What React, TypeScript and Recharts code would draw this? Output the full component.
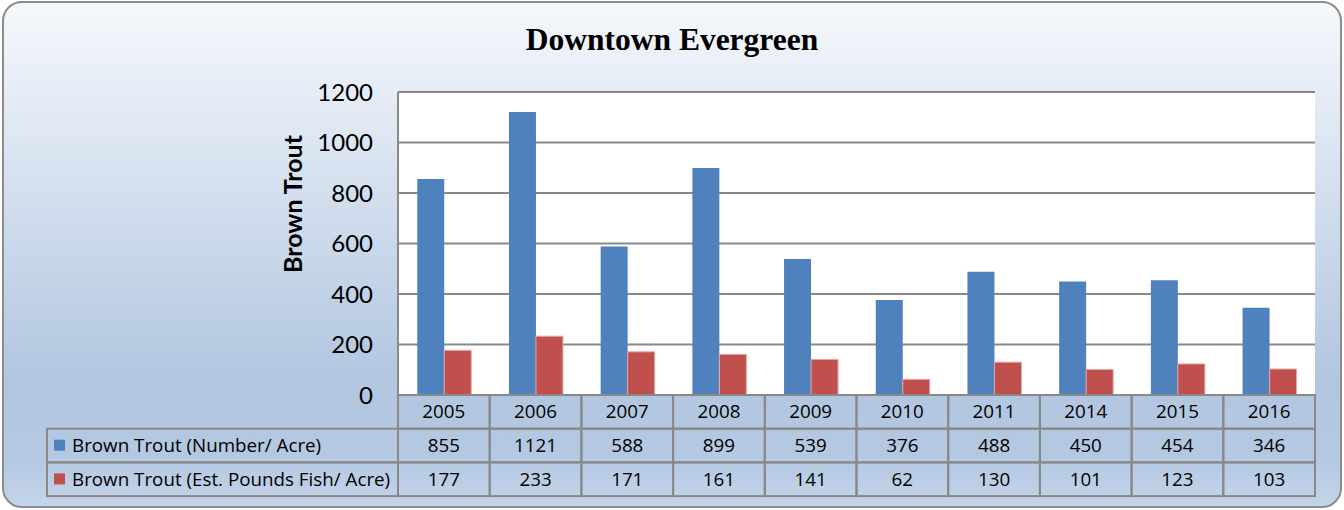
import React from "react";
import { ComposedChart, XAxis, YAxis, CartesianGrid, Bar } from "recharts";

const years = ["2005", "2006", "2007", "2008", "2009", "2010", "2011", "2014", "2015", "2016"];
const numberPerAcre = [855, 1121, 588, 899, 539, 376, 488, 450, 454, 346];
const poundsPerAcre = [177, 233, 171, 161, 141, 62, 130, 101, 123, 103];
const yTicks = [0, 200, 400, 600, 800, 1000, 1200];
const seriesNames = ["Brown Trout (Number/ Acre)", "Brown Trout (Est. Pounds Fish/ Acre)"];

const BLUE = "#4F81BD";
const RED = "#C0504D";
const LINE = "#898989";
const FONT = "Lato, 'Open Sans', sans-serif";
const TABLE_FONT = "'Open Sans', Lato, sans-serif";
const TABLE_SIZE = 18.8;

const chartData = years.map((y, i) => ({
  year: y,
  number: numberPerAcre[i],
  pounds: poundsPerAcre[i],
}));

const W = 1344;
const H = 510;
const plotLeft = 398;
const plotRight = 29;
const plotTop = 92;
const axisH = 115;
const bandW = (W - plotLeft - plotRight) / years.length;
const rowH = 33.7;
const legendLeft = 47;

// x axis tick draws one column of the data table
const TableTick = (props: any) => {
  const { x, y, payload } = props;
  const i = payload.index;
  const left = x - bandW / 2;
  const cell = (row: number, text: string | number) => (
    <g key={row}>
      <rect x={left} y={y + row * rowH} width={bandW} height={rowH} fill="none" stroke={LINE} strokeWidth={2} />
      <text x={x} y={y + row * rowH + rowH / 2 + 6.5} textAnchor="middle" fontSize={TABLE_SIZE} fontFamily={TABLE_FONT} fill="#000">
        {text}
      </text>
    </g>
  );
  return (
    <g>
      {cell(0, payload.value)}
      {cell(1, numberPerAcre[i])}
      {cell(2, poundsPerAcre[i])}
      {i === 0 &&
        seriesNames.map((name, r) => (
          <g key={name}>
            <rect x={legendLeft} y={y + (r + 1) * rowH} width={left - legendLeft} height={rowH} fill="none" stroke={LINE} strokeWidth={2} />
            <rect x={legendLeft + 7} y={y + (r + 1) * rowH + 11} width={11} height={11} fill={r === 0 ? BLUE : RED} />
            <text x={legendLeft + 25} y={y + (r + 1) * rowH + rowH / 2 + 6.5} fontSize={TABLE_SIZE} fontFamily={TABLE_FONT} fill="#000">
              {name}
            </text>
          </g>
        ))}
    </g>
  );
};

const YLabel = (props: any) => {
  const { viewBox } = props;
  const cx = viewBox.x + 292;
  const cy = 204;
  return (
    <text x={cx} y={cy} transform={`rotate(-90, ${cx}, ${cy})`} textAnchor="middle" dominantBaseline="central" fontSize={25} fontWeight="bold" fontFamily={FONT} fill="#000">
      Brown Trout
    </text>
  );
};

export default function App() {
  return (
    <div style={{ position: "absolute", left: 0, top: 0, width: W, height: H }}>
      <div
        style={{
          position: "absolute",
          left: 2,
          top: 1,
          width: 1336,
          height: 503,
          border: "2px solid #8c8c8c",
          borderRadius: 20,
          background: "linear-gradient(180deg, #f5f8fc 0%, #e4ebf5 20%, #c8d7ea 50%, #b2c6e0 75%, #b4c8e2 90%, #c4d4e9 100%)",
        }}
      />
      <div
        style={{
          position: "absolute",
          left: 0,
          top: 22,
          width: W,
          textAlign: "center",
          fontFamily: "'Liberation Serif', 'DejaVu Serif', serif",
          fontWeight: "bold",
          fontSize: 31.5,
          color: "#000",
        }}
      >
        Downtown Evergreen
      </div>
      <div style={{ position: "absolute", left: 0, top: 0 }}>
        <ComposedChart
          width={W}
          height={H}
          data={chartData}
          margin={{ top: plotTop, right: plotRight, left: 0, bottom: 0 }}
          barCategoryGap="21%"
          barGap={0}
        >
          <CartesianGrid vertical={false} stroke={LINE} strokeWidth={2} fill="#fff" fillOpacity={1} />
          <XAxis
            dataKey="year"
            height={axisH}
            tickLine={false}
            axisLine={false}
            tickSize={0}
            tickMargin={0}
            interval={0}
            tick={<TableTick />}
          />
          <YAxis
            width={plotLeft}
            domain={[0, 1200]}
            ticks={yTicks}
            tickLine={false}
            tickSize={0}
            tickMargin={25}
            axisLine={{ stroke: LINE, strokeWidth: 2 }}
            tick={{ fontSize: 24, fontFamily: FONT, fill: "#000" }}
            label={<YLabel />}
          />
          <Bar dataKey="number" fill={BLUE} isAnimationActive={false} />
          <Bar dataKey="pounds" fill={RED} stroke="#e3a9a7" strokeWidth={1} isAnimationActive={false} />
        </ComposedChart>
      </div>
    </div>
  );
}
